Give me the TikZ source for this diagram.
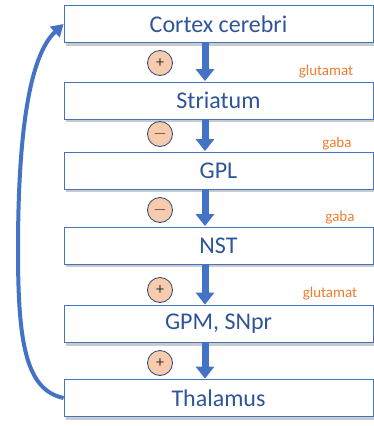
\documentclass[tikz,border=0pt]{standalone}
\usepackage{fontspec}
\setmainfont{Carlito}
\usetikzlibrary{arrows.meta,shadows}
\definecolor{txtblue}{HTML}{2F5597}
\definecolor{boxblue}{HTML}{4472C4}
\definecolor{arrblue}{HTML}{4472C4}
\definecolor{lorange}{HTML}{F8CBAD}
\definecolor{dorange}{HTML}{ED7D31}
\tikzset{
  box/.style={draw=boxblue, line width=0.8pt, fill=white, minimum width=309pt, minimum height=37pt,
    inner sep=0pt, text=txtblue, font=\fontsize{24}{26}\selectfont,
    drop shadow={shadow xshift=1.5pt, shadow yshift=-3pt, opacity=0.35, fill=black!60}},
  flow/.style={arrblue, line width=7pt, -{Triangle[width=18pt,length=12pt]}, shorten >=0.5pt},
  sign/.style={circle, draw=txtblue!80!black, line width=0.8pt, fill=lorange, minimum size=25pt, inner sep=0pt,
    text=black!80, font=\fontsize{16}{16}\selectfont},
  trans/.style={text=dorange, font=\fontsize{15}{16}\selectfont, inner sep=0pt},
  loop/.style={arrblue, line width=4pt, -{Triangle[width=14pt,length=12pt]}}
}
\begin{document}
\begin{tikzpicture}[x=1pt,y=-1pt]
\useasboundingbox (0,0) rectangle (374,426);
\node[box] (cortex) at (218.5,24) {Cortex cerebri};
\node[box] (stri) at (218.5,100.5) {Striatum};
\node[box] (gpl) at (218.5,170.5) {GPL};
\node[box] (nst) at (218.5,245.5) {NST};
\node[box] (gpm) at (218.5,324) {GPM, SNpr};
\node[box] (thal) at (218.5,398) {Thalamus};
\coordinate (ax) at (205,0);
\draw[flow] (ax|-cortex.south) -- (ax|-stri.north);
\draw[flow] (ax|-stri.south) -- (ax|-gpl.north);
\draw[flow] (ax|-gpl.south) -- (ax|-nst.north);
\draw[flow] (ax|-nst.south) -- (ax|-gpm.north);
\draw[flow] (ax|-gpm.south) -- (ax|-thal.north);
\node[sign] (s1) at (160,63) {+};
\node[sign] (s2) at (160,134) {$-$};
\node[sign] (s3) at (160,210) {$-$};
\node[sign] (s4) at (160,290) {+};
\node[sign] (s5) at (160,363) {+};
\node[trans] (t1) at (326,72) {glutamat};
\node[trans] (t2) at (337,144) {gaba};
\node[trans] (t3) at (340,218) {gaba};
\node[trans] (t4) at (330,294) {glutamat};
\draw[loop] (thal.west) .. controls (25,390) and (18,340) .. (18,250)
  .. controls (18,130) and (30,55) .. (cortex.west);
\end{tikzpicture}
\end{document}
